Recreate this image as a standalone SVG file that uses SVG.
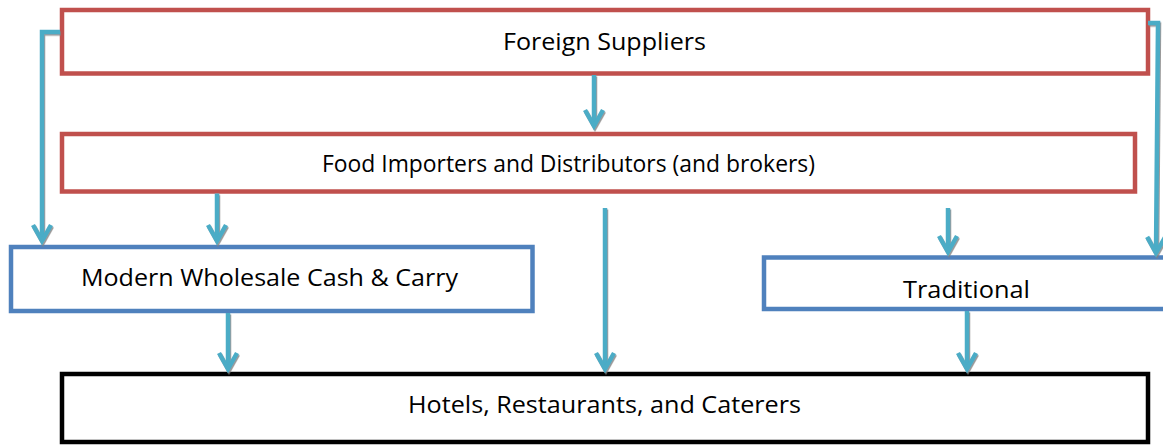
<svg xmlns="http://www.w3.org/2000/svg" width="1163" height="447" viewBox="0 0 1163 447">
  <defs>
    <style>
      .red { fill: #ffffff; stroke: #C0504D; stroke-width: 4.5; }
      .blue { fill: #ffffff; stroke: #4F81BD; stroke-width: 4.5; }
      .black { fill: #ffffff; stroke: #000000; stroke-width: 4.5; }
      .lbl { font-family: "Open Sans", "Liberation Sans", sans-serif; font-size: 23.5px; fill: #000000; }
      .conn { fill: none; stroke: #4BACC6; stroke-width: 4.5; marker-end: url(#arrow); }
    </style>
    <marker id="arrow" markerUnits="userSpaceOnUse" orient="auto" refX="0" refY="0" markerWidth="30" markerHeight="30" viewBox="-20 -15 30 30" overflow="visible">
      <path d="M-16,-9 L0,0 L-16,9" fill="none" stroke="#4BACC6" stroke-width="4.5" stroke-linejoin="miter"/>
    </marker>
    <filter id="shadow" x="-20%" y="-20%" width="140%" height="140%">
      <feDropShadow dx="1" dy="1.5" stdDeviation="0.6" flood-color="#808080" flood-opacity="0.8"/>
    </filter>
  </defs>
  <rect width="1163" height="447" fill="#ffffff"/>

  <g id="node-foreign">
    <rect class="red" x="62" y="10" width="1086" height="63.5"/>
    <text class="lbl" x="503" y="49.5" textLength="203" lengthAdjust="spacingAndGlyphs">Foreign Suppliers</text>
  </g>
  <g id="node-importers">
    <rect class="red" x="62" y="134" width="1073" height="57.5"/>
    <text class="lbl" x="322" y="172" textLength="493" lengthAdjust="spacingAndGlyphs">Food Importers and Distributors (and brokers)</text>
  </g>
  <g id="node-modern">
    <rect class="blue" x="11" y="247" width="521.5" height="64"/>
    <text class="lbl" x="81" y="286" textLength="377" lengthAdjust="spacingAndGlyphs">Modern Wholesale Cash &amp; Carry</text>
  </g>
  <g id="node-traditional">
    <rect class="blue" x="764" y="257.5" width="420" height="51.5"/>
    <text class="lbl" x="903" y="298" textLength="127" lengthAdjust="spacingAndGlyphs">Traditional</text>
  </g>
  <g id="node-hotels">
    <rect class="black" x="62" y="374" width="1086" height="68"/>
    <text class="lbl" x="408" y="413" textLength="393" lengthAdjust="spacingAndGlyphs">Hotels, Restaurants, and Caterers</text>
  </g>

  <g id="connectors" filter="url(#shadow)">
    <path class="conn" d="M594,75 V126"/>
    <path class="conn" d="M605,208 V369"/>
    <path class="conn" d="M217,193.5 V241"/>
    <path class="conn" d="M60,32 H42 V241"/>
    <path class="conn" d="M948,208 V252"/>
    <path class="conn" d="M1148,23 H1158 L1156,253"/>
    <path class="conn" d="M228,313 V369"/>
    <path class="conn" d="M967,311 V369"/>
  </g>
</svg>
